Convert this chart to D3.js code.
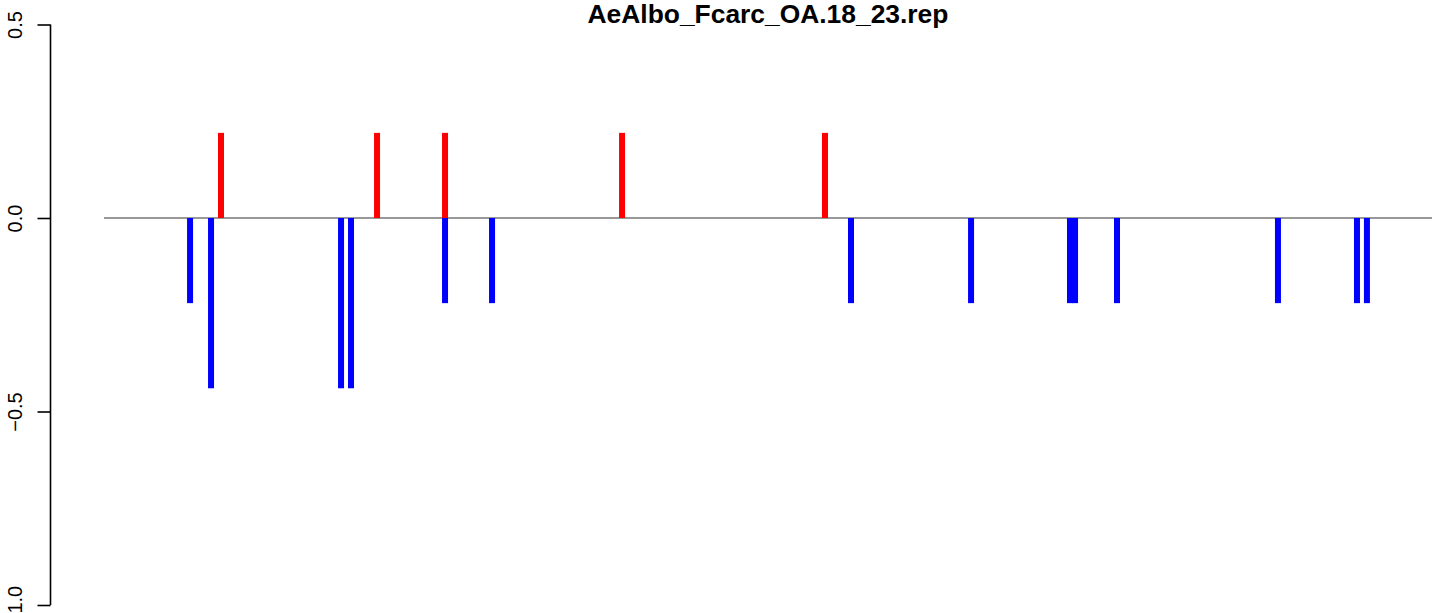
<!DOCTYPE html>
<html>
<head>
<meta charset="utf-8">
<script src="https://cdn.jsdelivr.net/npm/d3@7"></script>
<style>
  html, body { margin: 0; padding: 0; background: #ffffff; }
  svg { display: block; }
</style>
</head>
<body>
<script>
// ---- data ----
const chartTitle = "AeAlbo_Fcarc_OA.18_23.rep";
// positions along the track (arbitrary units 0..1000)
const redPositions  = [88.1, 205.6, 256.8, 390.1, 542.9];
const redValues     = [0.22, 0.22, 0.22, 0.22, 0.22];
const bluePositions = [64.8, 80.6, 178.5, 186.0, 256.8, 292.2, 562.5, 652.9, 727.4, 731.2, 762.8, 884.0, 943.5, 951.0];
const blueValues    = [-0.22, -0.44, -0.44, -0.44, -0.22, -0.22, -0.22, -0.22, -0.22, -0.22, -0.22, -0.22, -0.22, -0.22];
const trackExtent   = [0, 1000];
const yTicks        = [-1.0, -0.5, 0.0, 0.5];
const yTickLabels   = ["-1.0", "-0.5", "0.0", "0.5"];

// ---- layout ----
const W = 1444, H = 613;
const svg = d3.select("body").append("svg").attr("width", W).attr("height", H);

const x = d3.scaleLinear().domain(trackExtent).range([104, 1432]);
const y = d3.scaleLinear().domain([-1, 0.5]).range([605, 24.5]);
const barW = 6;

// y axis
const yAxis = d3.axisLeft(y)
  .tickValues(yTicks)
  .tickSize(13)
  .tickFormat((d, i) => yTickLabels[i]);
const gy = svg.append("g").attr("transform", "translate(50.5,0)").call(yAxis);
gy.select(".domain").attr("stroke", "#000").attr("stroke-width", 1.6).attr("d", `M0,${y(-1)}V${y(0.5)}`);
gy.selectAll(".tick line").attr("stroke", "#000").attr("stroke-width", 1.6);
gy.selectAll(".tick text")
  .attr("font-family", "'Liberation Sans', Arial, Helvetica, sans-serif")
  .attr("font-size", 20)
  .attr("fill", "#000")
  .attr("text-anchor", "middle")
  .attr("x", null).attr("dy", null)
  .attr("transform", "translate(-29,0) rotate(-90)")
  .text((d, i) => yTickLabels[i].replace("-", "\u2212"));

// zero line
svg.append("line")
  .attr("x1", x(trackExtent[0])).attr("x2", x(trackExtent[1]))
  .attr("y1", y(0)).attr("y2", y(0))
  .attr("stroke", "#333").attr("stroke-width", 1.2);

// red bars
svg.append("g").selectAll("rect").data(redPositions).join("rect")
  .attr("x", d => x(d) - barW / 2)
  .attr("width", barW)
  .attr("y", (d, i) => y(Math.max(0, redValues[i])))
  .attr("height", (d, i) => Math.abs(y(redValues[i]) - y(0)))
  .attr("fill", "#ff0000");

// blue bars
svg.append("g").selectAll("rect").data(bluePositions).join("rect")
  .attr("x", d => x(d) - barW / 2)
  .attr("width", barW)
  .attr("y", (d, i) => y(Math.max(0, blueValues[i])))
  .attr("height", (d, i) => Math.abs(y(blueValues[i]) - y(0)))
  .attr("fill", "#0000ff");

// title
svg.append("text")
  .attr("x", 768).attr("y", 23)
  .attr("text-anchor", "middle")
  .attr("font-family", "'Liberation Sans', Arial, Helvetica, sans-serif")
  .attr("font-weight", "bold")
  .attr("font-size", 26.4)
  .attr("fill", "#000")
  .text(chartTitle);
</script>
</body>
</html>
